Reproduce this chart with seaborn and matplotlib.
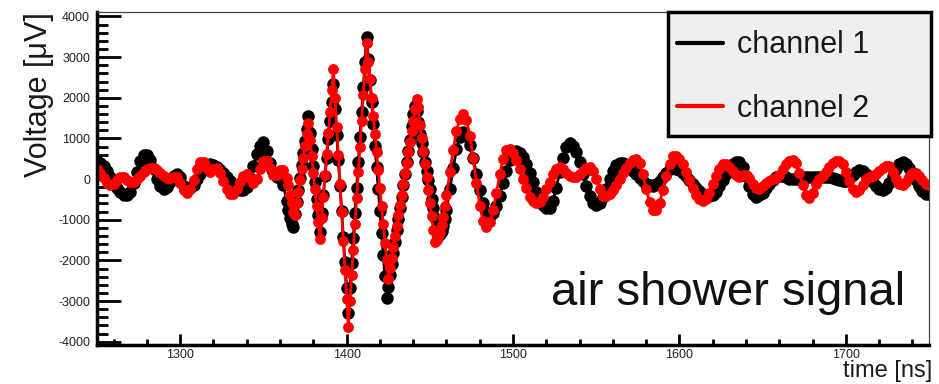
import numpy as np
import pandas as pd
import matplotlib
matplotlib.use("Agg")
import matplotlib.pyplot as plt
from matplotlib.lines import Line2D
from matplotlib.patches import Rectangle
from matplotlib.ticker import MultipleLocator
import seaborn as sns

# Sample times [ns]: 2 ns steps on the quiet parts, 1 ns steps through the pulse
time_early = np.arange(1250, 1365, 2)   # 1250 ... 1364
time_pulse = np.arange(1365, 1461, 1)   # 1365 ... 1460
time_late = np.arange(1462, 1751, 2)    # 1462 ... 1750

# Channel 1 voltage [uV]
ch1_early = [440, 400, 310, 200, 60, -80, -210, -310, -380, -400,
             -320, -100, 180, 440, 590, 590, 460, 240, 0, -180,
             -250, -190, -60, 70, 130, 40, -160, -250, -220, -140,
             -10, 120, 250, 330, 360, 350, 300, 230, 140, 40,
             -50, -140, -210, -260, -270, -190, 20, 320, 610, 820,
             900, 680, 400, 180, 60, 20, -150, -550]
ch1_pulse = [-760, -950, -1100, -1170, -870, -570, -270, 30, 340, 640,
             940, 1240, 1540, 1130, 730, 320, -80, -490, -890, -1300,
             -840, -390, 70, 520, 980, 1440, 1890, 2350, 1720, 1090,
             470, -160, -790, -1420, -2040, -2670, -3300, -2680, -2060, -1450,
             -830, -210, 410, 1030, 1650, 2260, 2880, 3500, 2960, 2430,
             1890, 1360, 820, 290, -250, -790, -1320, -1860, -2390, -2930,
             -2650, -2370, -2100, -1820, -1540, -1260, -980, -700, -430, -150,
             130, 410, 690, 970, 1300, 1600, 1800, 1680, 1400, 1120,
             890, 660, 430, 210, -20, -250, -480, -710, -960, -1230,
             -1390, -1360, -1280, -1150, -970, -760]
ch1_late = [-250, 270, 730, 1040, 1150, 1070, 850, 520, 130, -270,
            -600, -820, -900, -840, -670, -410, -100, 200, 460, 630,
            690, 650, 540, 370, 150, -80, -310, -500, -640, -720,
            -710, -530, -210, 170, 530, 790, 880, 820, 660, 410,
            120, -170, -420, -580, -640, -590, -440, -240, 0, 200,
            350, 400, 390, 350, 290, 210, 120, 30, -40, -110,
            -150, -160, -130, -50, 60, 160, 240, 270, 260, 220,
            150, 70, -30, -120, -220, -300, -370, -410, -420, -390,
            -310, -180, -30, 130, 270, 380, 430, 420, 290, 70,
            -180, -360, -430, -400, -340, -230, -120, -20, 50, 80,
            70, 40, 10, 0, 10, 30, 50, 60, 60, 55,
            50, 50, 50, 50, 40, 25, 0, -25, -38, -40,
            0, 90, 180, 220, 200, 130, 30, -80, -180, -250,
            -270, -220, -100, 70, 240, 370, 410, 380, 280, 140,
            -20, -170, -300, -360, -370]

# Channel 2 voltage [uV]
ch2_early = [240, 150, 20, -100, -150, -110, -20, 50, 45, -30,
             -80, -60, 0, 80, 170, 240, 280, 280, 230, 160,
             80, 30, 30, 55, 40, -100, -260, -340, -250, -20,
             250, 420, 420, 280, 170, 260, 280, 160, -40, -240,
             -360, -360, -250, -80, 70, 130, 20, -100, 10, 250,
             450, 450, 280, 100, 110, 230, 230, 20]
ch2_pulse = [-150, -380, -600, -800, -880, -600, -320, -30, 250, 530,
             820, 1100, 1380, 970, 570, 160, -250, -650, -1060, -1470,
             -950, -430, 90, 610, 1140, 1660, 2180, 2700, 2000, 1290,
             590, -120, -820, -1530, -2230, -2940, -3640, -3010, -2370, -1740,
             -1100, -470, 170, 800, 1440, 2070, 2710, 3340, 2890, 2450,
             2000, 1560, 1110, 670, 220, -220, -670, -1110, -1560, -2000,
             -2450, -2190, -1930, -1670, -1410, -1150, -890, -640, -380, -120,
             140, 400, 660, 920, 1180, 1440, 1720, 1960, 1780, 1320,
             1000, 690, 370, 50, -270, -580, -900, -1250, -1540, -1510,
             -1430, -1310, -1130, -920, -670, -400]
ch2_late = [170, 720, 1180, 1480, 1590, 1450, 1070, 520, -100, -650,
            -1030, -1170, -1060, -760, -330, 120, 500, 710, 730, 640,
            470, 250, 10, -230, -430, -550, -600, -560, -430, -250,
            -60, 120, 250, 290, 250, 160, 80, 40, 60, 130,
            210, 280, 300, 210, 0, -250, -410, -420, -370, -280,
            -150, -10, 140, 280, 390, 460, 490, 390, 120, -240,
            -570, -760, -770, -590, -280, 70, 380, 560, 570, 500,
            360, 180, -30, -220, -390, -490, -530, -480, -340, -130,
            80, 260, 360, 360, 290, 190, 100, 60, 90, 100,
            20, -120, -220, -250, -180, -100, -40, 0, 30, 100,
            240, 360, 440, 480, 390, 150, -140, -380, -470, -330,
            -130, 0, 70, 180, 300, 400, 440, 450, 380, 180,
            -50, -250, -320, -270, -140, 0, 50, 70, 130, 210,
            280, 320, 310, 180, 0, -130, -140, -60, 60, 140,
            140, 80, -30, -110, -150]

channel_names = ["channel 1", "channel 2"]
channel_colors = ["black", "#ff0000"]

time_ns = np.concatenate([time_early, time_pulse, time_late])
ch1 = np.array(ch1_early + ch1_pulse + ch1_late, dtype=float)
ch2 = np.array(ch2_early + ch2_pulse + ch2_late, dtype=float)

df = pd.DataFrame({
    "time": np.concatenate([time_ns, time_ns]),
    "voltage": np.concatenate([ch1, ch2]),
    "channel": [channel_names[0]] * len(ch1) + [channel_names[1]] * len(ch2),
})

sns.set_theme(style="white")
plt.rcParams["font.family"] = ["Liberation Sans", "DejaVu Sans"]
plt.rcParams["axes.unicode_minus"] = False

fig = plt.figure(figsize=(9.39, 3.84), dpi=100)
ax = fig.add_axes([0.1033, 0.1016, 0.8862, 0.8672])

sns.lineplot(data=df, x="time", y="voltage", hue="channel",
             hue_order=channel_names, palette=dict(zip(channel_names, channel_colors)),
             estimator=None, sort=False, marker="o", markersize=7,
             markeredgewidth=0, linewidth=2.0, legend=False, ax=ax)
ax.lines[0].set_markersize(9.0)
ax.lines[1].set_markersize(7.8)

ax.set_xlim(1250, 1750)
ax.set_ylim(-4080, 4110)
ax.xaxis.set_major_locator(MultipleLocator(100))
ax.xaxis.set_minor_locator(MultipleLocator(20))
ax.yaxis.set_major_locator(MultipleLocator(1000))
ax.yaxis.set_minor_locator(MultipleLocator(200))

ax.tick_params(axis="both", which="both", direction="in", bottom=True, left=True,
               top=False, right=False, color="black", labelcolor="#222222")
ax.tick_params(axis="y", which="major", length=17, width=2, labelsize=9, pad=5)
ax.tick_params(axis="y", which="minor", length=8, width=2)
ax.tick_params(axis="x", which="major", length=8, width=2, labelsize=9, pad=3)
ax.tick_params(axis="x", which="minor", length=4, width=2)

for side in ("left", "bottom"):
    ax.spines[side].set_linewidth(2.5)
    ax.spines[side].set_color("black")
for side in ("top", "right"):
    ax.spines[side].set_linewidth(0.9)
    ax.spines[side].set_color("#444444")

ax.set_ylabel("Voltage [μV]", loc="top", fontsize=22, color="#1a1a1a", labelpad=3)
ax.set_xlabel("time [ns]", fontsize=17, color="#1a1a1a", ha="right", va="top")
ax.xaxis.set_label_coords(1.004, -0.046)

ax.text(0.971, 0.12, "air shower signal", transform=ax.transAxes,
        ha="right", va="baseline", fontsize=34, color="#111111")

# Legend box
ax.add_patch(Rectangle((0.686, 0.628), 0.316, 0.372, transform=ax.transAxes,
                       facecolor="#efefef", edgecolor="black", linewidth=2.5,
                       zorder=5, clip_on=False))
handles = [Line2D([0], [0], color=c, lw=3) for c in channel_colors]
leg = ax.legend(handles, channel_names, loc="upper left",
                bbox_to_anchor=(0.697, 0.945), frameon=False, fontsize=22,
                handlelength=1.5, handletextpad=0.45, labelspacing=1.09,
                borderpad=0, borderaxespad=0)
leg.set_zorder(6)
for t in leg.get_texts():
    t.set_color("#1a1a1a")

fig.savefig("out.png", dpi=100)
